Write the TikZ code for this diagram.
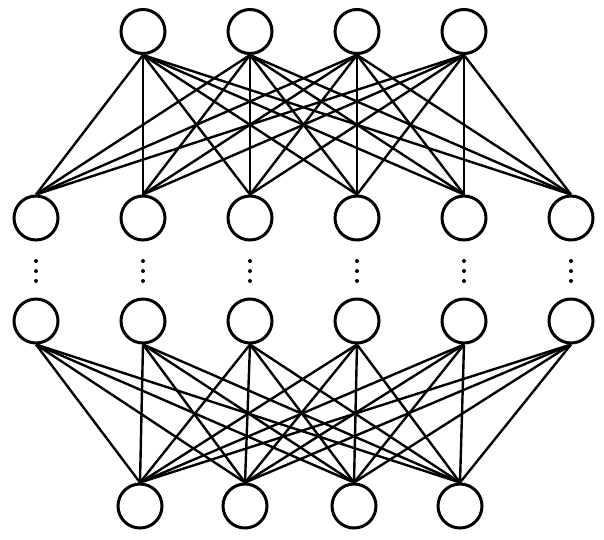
\documentclass[tikz,border=0pt]{standalone}
\usepackage{tikz}
\usetikzlibrary{positioning}

\begin{document}
\begin{tikzpicture}[
  x=1pt, y=-1pt,
  unit/.style={circle, draw=black, fill=white, minimum size=44pt, inner sep=0pt, line width=3pt},
  link/.style={line width=2.4pt, black},
  dot/.style={circle, fill=black, inner sep=0pt, minimum size=4pt},
]
\useasboundingbox (0,0) rectangle (604,539);

% ─── Top layer ───
\node[unit] (t1) at (143,31.5) {};
\node[unit] (t2) at (250,31.5) {};
\node[unit] (t3) at (357,31.5) {};
\node[unit] (t4) at (464,31.5) {};

% ─── Upper hidden layer ───
\node[unit] (u1) at (36,218) {};
\node[unit] (u2) at (143,218) {};
\node[unit] (u3) at (250,218) {};
\node[unit] (u4) at (357,218) {};
\node[unit] (u5) at (464,218) {};
\node[unit] (u6) at (571,218) {};

% ─── Lower hidden layer ───
\node[unit] (l1) at (36,321) {};
\node[unit] (l2) at (143,321) {};
\node[unit] (l3) at (250,321) {};
\node[unit] (l4) at (357,321) {};
\node[unit] (l5) at (464,321) {};
\node[unit] (l6) at (571,321) {};

% ─── Bottom layer ───
\node[unit] (b1) at (140,506) {};
\node[unit] (b2) at (245,506) {};
\node[unit] (b3) at (354,506) {};
\node[unit] (b4) at (460,506) {};

% Links between layers
\foreach \i in {1,...,4} {
  \foreach \j in {1,...,6} {
    \draw[link] (t\i.south) -- (u\j.north);
    \draw[link] (l\j.south) -- (b\i.north);
  }
}

% Vertical dots
\foreach \x in {36,143,250,357,464,571} {
  \foreach \y in {261,271,281} {
    \node[dot] at (\x,\y) {};
  }
}

\end{tikzpicture}
\end{document}
